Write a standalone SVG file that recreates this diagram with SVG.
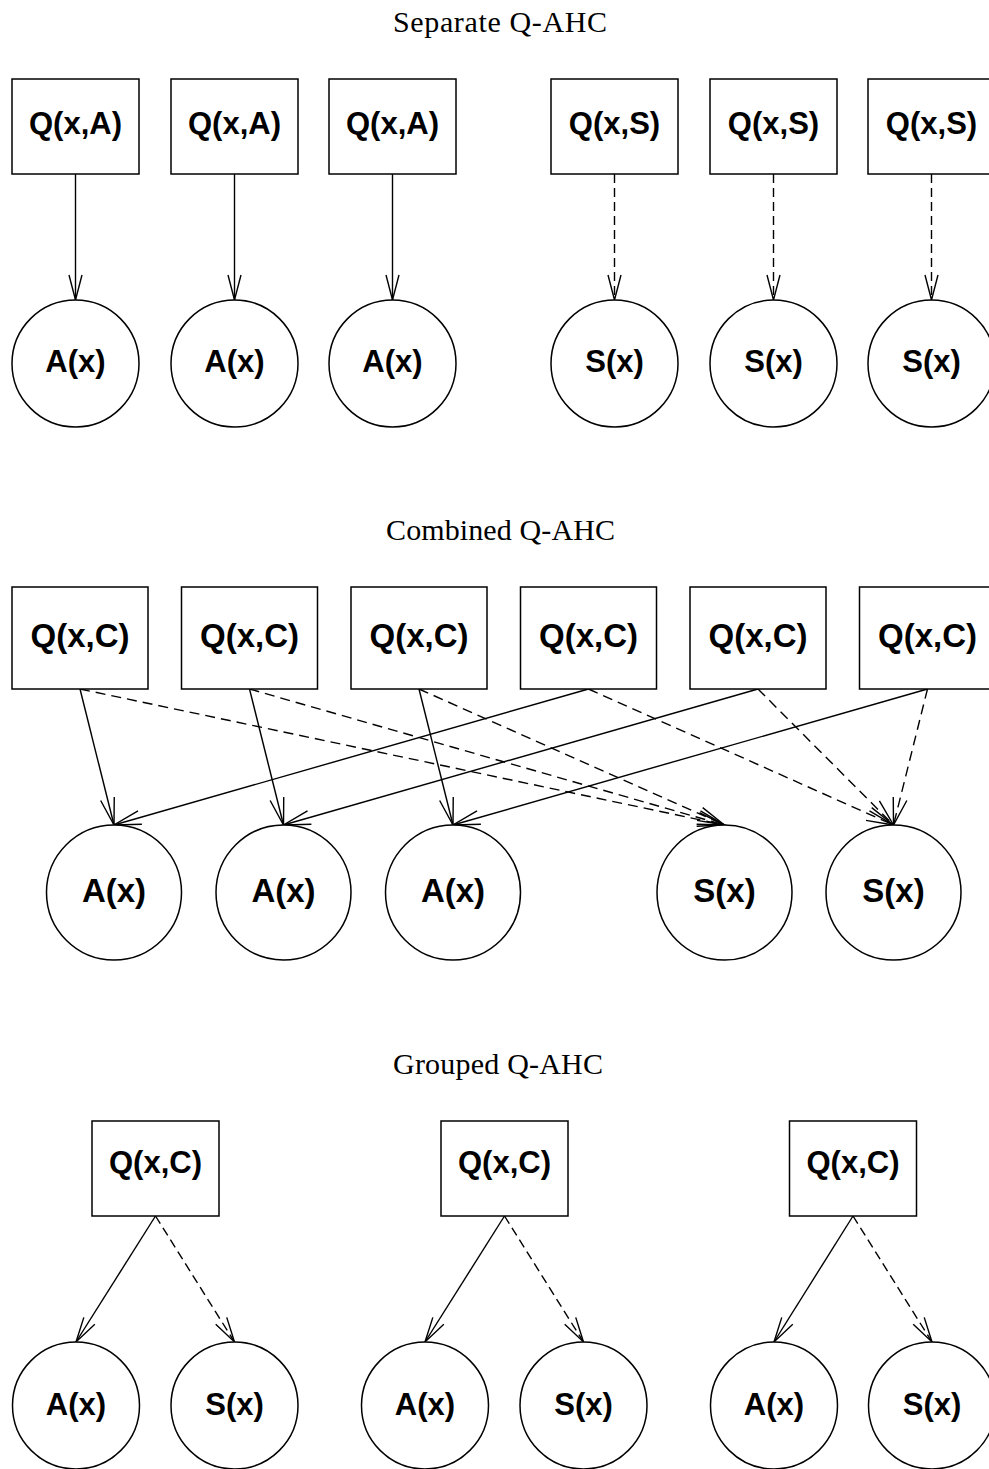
<svg xmlns="http://www.w3.org/2000/svg" width="989" height="1469" viewBox="0 0 989 1469">
  <style>
    .box { fill: #fff; stroke: #000; stroke-width: 1.5; }
    .node { fill: #fff; stroke: #000; stroke-width: 1.5; }
    .lbl { font-family: "Liberation Sans", Arial, sans-serif; font-weight: bold; text-anchor: middle; fill: #000; }
    .s1 { font-size: 31px; }
    .s2 { font-size: 33px; }
    .title { font-family: "Liberation Serif", "Times New Roman", serif; font-size: 30px; text-anchor: middle; fill: #000; }
    .edge { fill: none; stroke: #000; stroke-width: 1.4; }
    .dash { stroke-dasharray: 9 5; }
    .dashL { stroke-dasharray: 10 6; }
  </style>
  <defs>
    <marker id="head" markerUnits="userSpaceOnUse" orient="auto" refX="0" refY="0" markerWidth="40" markerHeight="40" viewBox="-30 -15 40 30" overflow="visible">
      <path d="M-25,-6.5 L0,0 L-25,6.5" fill="none" stroke="#000" stroke-width="1.4" stroke-dasharray="none"/>
    </marker>
    <marker id="headL" markerUnits="userSpaceOnUse" orient="auto" refX="0" refY="0" markerWidth="40" markerHeight="40" viewBox="-30 -15 40 30" overflow="visible">
      <path d="M-27,-7 L0,0 L-27,7" fill="none" stroke="#000" stroke-width="1.4" stroke-dasharray="none"/>
    </marker>
  </defs>

  <rect width="989" height="1469" fill="#fff"/>

  <!-- section titles -->
  <text class="title" x="500" y="32" textLength="214" lengthAdjust="spacing">Separate Q-AHC</text>
  <text class="title" x="500.5" y="540" textLength="229" lengthAdjust="spacing">Combined Q-AHC</text>
  <text class="title" x="498" y="1074" textLength="210" lengthAdjust="spacing">Grouped Q-AHC</text>

  <!-- connectors -->
  <g id="connectors">
    <!-- separate: action heads -->
    <line class="edge" x1="75.5" y1="174" x2="75.5" y2="300" marker-end="url(#head)"/>
    <line class="edge" x1="234.5" y1="174" x2="234.5" y2="300" marker-end="url(#head)"/>
    <line class="edge" x1="392.5" y1="174" x2="392.5" y2="300" marker-end="url(#head)"/>
    <!-- separate: selection heads -->
    <line class="edge dash" x1="614.5" y1="174" x2="614.5" y2="300" marker-end="url(#head)"/>
    <line class="edge dash" x1="773.5" y1="174" x2="773.5" y2="300" marker-end="url(#head)"/>
    <line class="edge dash" x1="931.5" y1="174" x2="931.5" y2="300" marker-end="url(#head)"/>

    <!-- combined: solid to action nodes -->
    <line class="edge" x1="80" y1="689" x2="114" y2="825" marker-end="url(#headL)"/>
    <line class="edge" x1="249.5" y1="689" x2="283.5" y2="825" marker-end="url(#headL)"/>
    <line class="edge" x1="419" y1="689" x2="453" y2="825" marker-end="url(#headL)"/>
    <line class="edge" x1="588.5" y1="689" x2="114" y2="825" marker-end="url(#headL)"/>
    <line class="edge" x1="758" y1="689" x2="283.5" y2="825" marker-end="url(#headL)"/>
    <line class="edge" x1="927.5" y1="689" x2="453" y2="825" marker-end="url(#headL)"/>
    <!-- combined: dashed to selection nodes -->
    <line class="edge dashL" x1="80" y1="689" x2="724.5" y2="825" marker-end="url(#headL)"/>
    <line class="edge dashL" x1="249.5" y1="689" x2="724.5" y2="825" marker-end="url(#headL)"/>
    <line class="edge dashL" x1="419" y1="689" x2="724.5" y2="825" marker-end="url(#headL)"/>
    <line class="edge dashL" x1="588.5" y1="689" x2="893.5" y2="825" marker-end="url(#headL)"/>
    <line class="edge dashL" x1="758" y1="689" x2="893.5" y2="825" marker-end="url(#headL)"/>
    <line class="edge dashL" x1="927.5" y1="689" x2="893.5" y2="825" marker-end="url(#headL)"/>

    <!-- grouped -->
    <line class="edge" x1="155.5" y1="1216" x2="76" y2="1342" marker-end="url(#head)"/>
    <line class="edge dash" x1="155.5" y1="1216" x2="234.5" y2="1342" marker-end="url(#head)"/>
    <line class="edge" x1="504.5" y1="1216" x2="425" y2="1342" marker-end="url(#head)"/>
    <line class="edge dash" x1="504.5" y1="1216" x2="583.5" y2="1342" marker-end="url(#head)"/>
    <line class="edge" x1="853" y1="1216" x2="774" y2="1342" marker-end="url(#head)"/>
    <line class="edge dash" x1="853" y1="1216" x2="932" y2="1342" marker-end="url(#head)"/>
  </g>

  <!-- separate Q-AHC nodes -->
  <g id="sep-qa1"><rect class="box" x="12" y="79" width="127" height="95"/><text class="lbl s1" x="75.5" y="134">Q(x,A)</text></g>
  <g id="sep-qa2"><rect class="box" x="171" y="79" width="127" height="95"/><text class="lbl s1" x="234.5" y="134">Q(x,A)</text></g>
  <g id="sep-qa3"><rect class="box" x="329" y="79" width="127" height="95"/><text class="lbl s1" x="392.5" y="134">Q(x,A)</text></g>
  <g id="sep-qs1"><rect class="box" x="551" y="79" width="127" height="95"/><text class="lbl s1" x="614.5" y="134">Q(x,S)</text></g>
  <g id="sep-qs2"><rect class="box" x="710" y="79" width="127" height="95"/><text class="lbl s1" x="773.5" y="134">Q(x,S)</text></g>
  <g id="sep-qs3"><rect class="box" x="868" y="79" width="127" height="95"/><text class="lbl s1" x="931.5" y="134">Q(x,S)</text></g>
  <g id="sep-a1"><circle class="node" cx="75.5" cy="363.5" r="63.5"/><text class="lbl s1" x="75.5" y="372">A(x)</text></g>
  <g id="sep-a2"><circle class="node" cx="234.5" cy="363.5" r="63.5"/><text class="lbl s1" x="234.5" y="372">A(x)</text></g>
  <g id="sep-a3"><circle class="node" cx="392.5" cy="363.5" r="63.5"/><text class="lbl s1" x="392.5" y="372">A(x)</text></g>
  <g id="sep-s1"><circle class="node" cx="614.5" cy="363.5" r="63.5"/><text class="lbl s1" x="614.5" y="372">S(x)</text></g>
  <g id="sep-s2"><circle class="node" cx="773.5" cy="363.5" r="63.5"/><text class="lbl s1" x="773.5" y="372">S(x)</text></g>
  <g id="sep-s3"><circle class="node" cx="931.5" cy="363.5" r="63.5"/><text class="lbl s1" x="931.5" y="372">S(x)</text></g>

  <!-- combined Q-AHC nodes -->
  <g id="comb-q1"><rect class="box" x="12" y="587" width="136" height="102"/><text class="lbl s2" x="80" y="647">Q(x,C)</text></g>
  <g id="comb-q2"><rect class="box" x="181.5" y="587" width="136" height="102"/><text class="lbl s2" x="249.5" y="647">Q(x,C)</text></g>
  <g id="comb-q3"><rect class="box" x="351" y="587" width="136" height="102"/><text class="lbl s2" x="419" y="647">Q(x,C)</text></g>
  <g id="comb-q4"><rect class="box" x="520.5" y="587" width="136" height="102"/><text class="lbl s2" x="588.5" y="647">Q(x,C)</text></g>
  <g id="comb-q5"><rect class="box" x="690" y="587" width="136" height="102"/><text class="lbl s2" x="758" y="647">Q(x,C)</text></g>
  <g id="comb-q6"><rect class="box" x="859.5" y="587" width="136" height="102"/><text class="lbl s2" x="927.5" y="647">Q(x,C)</text></g>
  <g id="comb-a1"><circle class="node" cx="114" cy="892.5" r="67.5"/><text class="lbl s2" x="114" y="902">A(x)</text></g>
  <g id="comb-a2"><circle class="node" cx="283.5" cy="892.5" r="67.5"/><text class="lbl s2" x="283.5" y="902">A(x)</text></g>
  <g id="comb-a3"><circle class="node" cx="453" cy="892.5" r="67.5"/><text class="lbl s2" x="453" y="902">A(x)</text></g>
  <g id="comb-s1"><circle class="node" cx="724.5" cy="892.5" r="67.5"/><text class="lbl s2" x="724.5" y="902">S(x)</text></g>
  <g id="comb-s2"><circle class="node" cx="893.5" cy="892.5" r="67.5"/><text class="lbl s2" x="893.5" y="902">S(x)</text></g>

  <!-- grouped Q-AHC nodes -->
  <g id="grp-q1"><rect class="box" x="92" y="1121" width="127" height="95"/><text class="lbl s1" x="155.5" y="1173">Q(x,C)</text></g>
  <g id="grp-q2"><rect class="box" x="441" y="1121" width="127" height="95"/><text class="lbl s1" x="504.5" y="1173">Q(x,C)</text></g>
  <g id="grp-q3"><rect class="box" x="789.5" y="1121" width="127" height="95"/><text class="lbl s1" x="853" y="1173">Q(x,C)</text></g>
  <g id="grp-a1"><circle class="node" cx="76" cy="1405.5" r="63.5"/><text class="lbl s1" x="76" y="1415">A(x)</text></g>
  <g id="grp-s1"><circle class="node" cx="234.5" cy="1405.5" r="63.5"/><text class="lbl s1" x="234.5" y="1415">S(x)</text></g>
  <g id="grp-a2"><circle class="node" cx="425" cy="1405.5" r="63.5"/><text class="lbl s1" x="425" y="1415">A(x)</text></g>
  <g id="grp-s2"><circle class="node" cx="583.5" cy="1405.5" r="63.5"/><text class="lbl s1" x="583.5" y="1415">S(x)</text></g>
  <g id="grp-a3"><circle class="node" cx="774" cy="1405.5" r="63.5"/><text class="lbl s1" x="774" y="1415">A(x)</text></g>
  <g id="grp-s3"><circle class="node" cx="932" cy="1405.5" r="63.5"/><text class="lbl s1" x="932" y="1415">S(x)</text></g>
</svg>
